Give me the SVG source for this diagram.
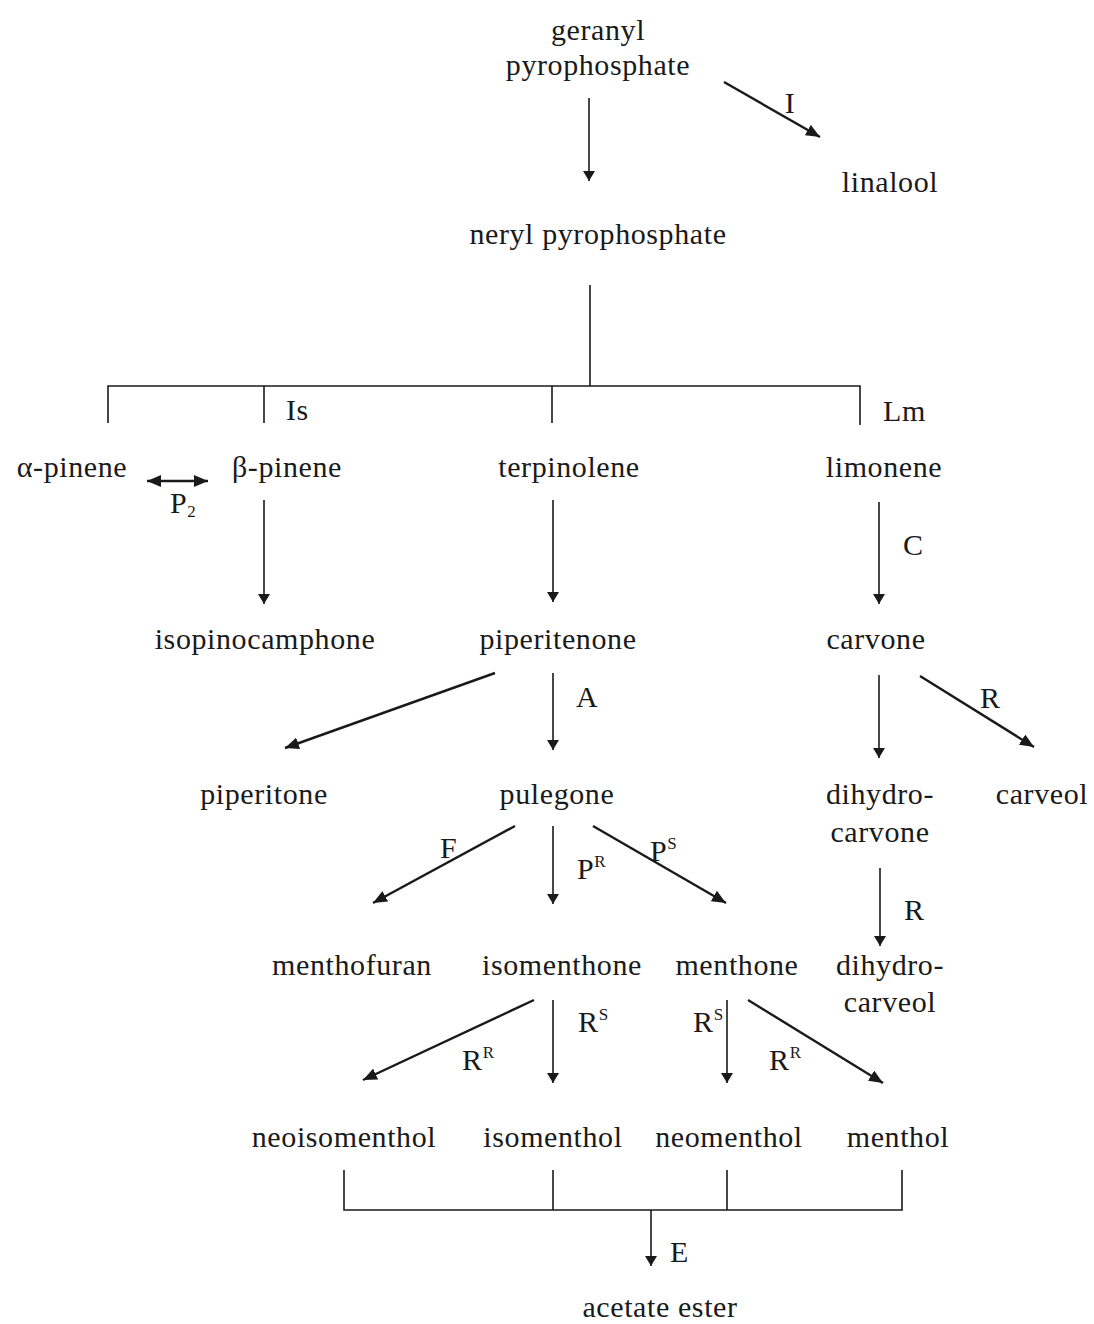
<svg xmlns="http://www.w3.org/2000/svg" width="1094" height="1324" viewBox="0 0 1094 1324">
<style>
text{font-family:"Liberation Serif","Times New Roman",serif;font-size:30px;fill:#1a1a1a;letter-spacing:0.6px}
.n{text-anchor:middle}
.sup{font-size:17px;letter-spacing:0}
.c{stroke:#1a1a1a;fill:none;stroke-width:1.6}
.d{stroke:#1a1a1a;fill:none;stroke-width:2.4}
</style>
<defs>
<marker id="av" viewBox="0 0 10 14" refX="10" refY="7" markerWidth="10" markerHeight="14" orient="auto" markerUnits="userSpaceOnUse"><path d="M0,1 L10,7 L0,13 z" fill="#1a1a1a"/></marker>
<marker id="ad" viewBox="0 0 14 12" refX="14" refY="6" markerWidth="14" markerHeight="12" orient="auto" markerUnits="userSpaceOnUse"><path d="M0,0 L14,6 L0,12 z" fill="#1a1a1a"/></marker>
<marker id="as" viewBox="0 0 14 12" refX="0" refY="6" markerWidth="14" markerHeight="12" orient="auto" markerUnits="userSpaceOnUse"><path d="M14,0 L0,6 L14,12 z" fill="#1a1a1a"/></marker>
</defs>
<rect width="1094" height="1324" fill="#ffffff"/>
<g id="connectors">
<line class="c" x1="589" y1="98" x2="589" y2="181" marker-end="url(#av)"/>
<line class="d" x1="724" y1="82" x2="820" y2="137" marker-end="url(#ad)"/>
<polyline class="c" points="590,285 590,386"/>
<polyline class="c" points="108,423 108,386 860,386 860,425"/>
<line class="c" x1="264" y1="386" x2="264" y2="423"/>
<line class="c" x1="552" y1="386" x2="552" y2="423"/>
<line class="d" x1="147" y1="481" x2="208" y2="481" marker-start="url(#as)" marker-end="url(#ad)"/>
<line class="c" x1="264" y1="500" x2="264" y2="604" marker-end="url(#av)"/>
<line class="c" x1="553" y1="500" x2="553" y2="602" marker-end="url(#av)"/>
<line class="c" x1="879" y1="502" x2="879" y2="604" marker-end="url(#av)"/>
<line class="d" x1="495" y1="673" x2="285" y2="748" marker-end="url(#ad)"/>
<line class="c" x1="553" y1="673" x2="553" y2="750" marker-end="url(#av)"/>
<line class="c" x1="879" y1="675" x2="879" y2="758" marker-end="url(#av)"/>
<line class="d" x1="920" y1="676" x2="1034" y2="747" marker-end="url(#ad)"/>
<line class="d" x1="515" y1="826" x2="373" y2="903" marker-end="url(#ad)"/>
<line class="c" x1="553" y1="826" x2="553" y2="904" marker-end="url(#av)"/>
<line class="d" x1="593" y1="826" x2="726" y2="903" marker-end="url(#ad)"/>
<line class="c" x1="880" y1="868" x2="880" y2="946" marker-end="url(#av)"/>
<line class="d" x1="534" y1="1000" x2="363" y2="1080" marker-end="url(#ad)"/>
<line class="c" x1="553" y1="1000" x2="553" y2="1083" marker-end="url(#av)"/>
<line class="c" x1="727" y1="1000" x2="727" y2="1083" marker-end="url(#av)"/>
<line class="d" x1="748" y1="1000" x2="883" y2="1083" marker-end="url(#ad)"/>
<polyline class="c" points="344,1170 344,1210 902,1210 902,1170"/>
<line class="c" x1="553" y1="1170" x2="553" y2="1210"/>
<line class="c" x1="727" y1="1170" x2="727" y2="1210"/>
<line class="c" x1="651" y1="1210" x2="651" y2="1266" marker-end="url(#av)"/>
</g>
<g id="labels">
<text x="790" y="113" class="n">I</text>
<text x="286" y="420">Is</text>
<text x="883" y="421">Lm</text>
<text x="170" y="513">P<tspan class="sup" dy="4">2</tspan></text>
<text x="903" y="555">C</text>
<text x="576" y="707">A</text>
<text x="980" y="708">R</text>
<text x="440" y="858">F</text>
<text x="577" y="879">P<tspan class="sup" dy="-12">R</tspan></text>
<text x="650" y="861">P<tspan class="sup" dy="-12">S</tspan></text>
<text x="904" y="920">R</text>
<text x="578" y="1032">R<tspan class="sup" dy="-12">S</tspan></text>
<text x="693" y="1032">R<tspan class="sup" dy="-12">S</tspan></text>
<text x="462" y="1070">R<tspan class="sup" dy="-12">R</tspan></text>
<text x="769" y="1070">R<tspan class="sup" dy="-12">R</tspan></text>
<text x="670" y="1262">E</text>
</g>
<g id="geranyl-pyrophosphate"><text x="598" y="40" class="n">geranyl</text><text x="598" y="75" class="n">pyrophosphate</text></g>
<g id="linalool"><text x="890" y="192" class="n">linalool</text></g>
<g id="neryl-pyrophosphate"><text x="598" y="244" class="n">neryl pyrophosphate</text></g>
<g id="alpha-pinene"><text x="72" y="477" class="n">α-pinene</text></g>
<g id="beta-pinene"><text x="287" y="477" class="n">β-pinene</text></g>
<g id="terpinolene"><text x="569" y="477" class="n">terpinolene</text></g>
<g id="limonene"><text x="884" y="477" class="n">limonene</text></g>
<g id="isopinocamphone"><text x="265" y="649" class="n">isopinocamphone</text></g>
<g id="piperitenone"><text x="558" y="649" class="n">piperitenone</text></g>
<g id="carvone"><text x="876" y="649" class="n">carvone</text></g>
<g id="piperitone"><text x="264" y="804" class="n">piperitone</text></g>
<g id="pulegone"><text x="557" y="804" class="n">pulegone</text></g>
<g id="dihydrocarvone"><text x="880" y="804" class="n">dihydro-</text><text x="880" y="842" class="n">carvone</text></g>
<g id="carveol"><text x="1042" y="804" class="n">carveol</text></g>
<g id="menthofuran"><text x="352" y="975" class="n">menthofuran</text></g>
<g id="isomenthone"><text x="562" y="975" class="n">isomenthone</text></g>
<g id="menthone"><text x="737" y="975" class="n">menthone</text></g>
<g id="dihydrocarveol"><text x="890" y="975" class="n">dihydro-</text><text x="890" y="1012" class="n">carveol</text></g>
<g id="neoisomenthol"><text x="344" y="1147" class="n">neoisomenthol</text></g>
<g id="isomenthol"><text x="553" y="1147" class="n">isomenthol</text></g>
<g id="neomenthol"><text x="729" y="1147" class="n">neomenthol</text></g>
<g id="menthol"><text x="898" y="1147" class="n">menthol</text></g>
<g id="acetate-ester"><text x="660" y="1317" class="n">acetate ester</text></g>
</svg>
